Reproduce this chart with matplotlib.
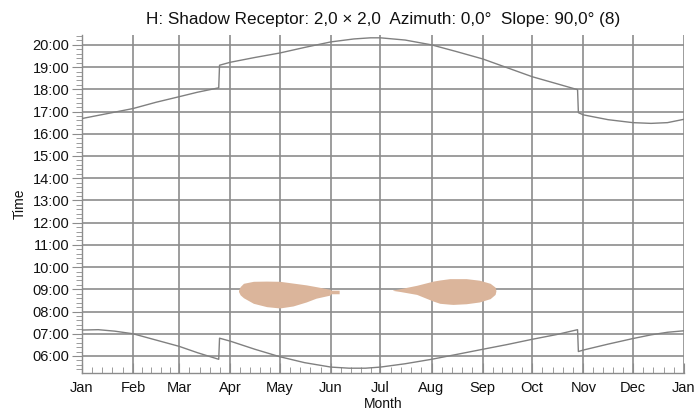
import matplotlib
matplotlib.use("Agg")
import matplotlib.pyplot as plt
from matplotlib.ticker import FixedLocator, FuncFormatter, MultipleLocator

plt.rcParams["font.family"] = ["Liberation Sans", "DejaVu Sans"]

LINE_COLOR = "#808080"
GRID_COLOR = "#8c8c8c"
SHADOW_COLOR = "#dbb59b"
TEXT_COLOR = "#111111"

MONTHS = ["Jan", "Feb", "Mar", "Apr", "May", "Jun", "Jul",
          "Aug", "Sep", "Oct", "Nov", "Dec", "Jan"]
MONTH_START = [0, 31, 59, 90, 120, 151, 181, 212, 243, 273, 304, 334, 365]

# sunrise / sunset (local clock time) by day of year
SUN_DAYS = [0, 10, 20, 31, 45, 59, 70, 83, 83.5, 90, 105, 120, 135, 151, 162,
            172, 181, 196, 212, 227, 243, 258, 273, 288, 300.5, 301, 304, 319,
            334, 345, 355, 365]
SUNRISE = ["07:10", "07:11", "07:07", "07:00", "06:43", "06:26", "06:09", "05:51",
           "06:48", "06:40", "06:18", "05:58", "05:42", "05:30", "05:27",
           "05:27", "05:30", "05:39", "05:51", "06:04", "06:18", "06:31",
           "06:45", "06:58", "07:11", "06:12", "06:16", "06:32",
           "06:47", "06:57", "07:04", "07:08"]
SUNSET_DAYS = [0, 15, 31, 45, 59, 70, 83, 83.5, 90, 105, 120, 135, 151, 165,
               175, 181, 196, 212, 227, 243, 258, 273, 288, 300.5, 301, 304,
               319, 334, 345, 355, 365]
SUNSET = ["16:41", "16:54", "17:08", "17:25", "17:40", "17:52", "18:04", "19:05",
          "19:13", "19:26", "19:38", "19:53", "20:08", "20:16", "20:19",
          "20:19", "20:13", "20:00", "19:42", "19:22", "18:58", "18:34",
          "18:15", "17:59", "16:57", "16:51", "16:38", "16:30", "16:28",
          "16:30", "16:39"]

# shadow periods on the receptor (decimal hours)
SPRING_DAYS = [95, 96, 98, 104, 112, 120, 128, 136, 142, 150.5, 151, 156]
SPRING_FROM = [8.90, 8.75, 8.62, 8.37, 8.22, 8.16, 8.25, 8.43, 8.60, 8.74, 8.80, 8.80]
SPRING_TO = [8.95, 9.12, 9.27, 9.36, 9.37, 9.36, 9.28, 9.20, 9.12, 9.00, 8.96, 8.96]
SUMMER_DAYS = [188.5, 193, 203, 213, 217, 223, 225, 233, 241, 247.5, 250.5, 251]
SUMMER_FROM = [8.95, 8.90, 8.77, 8.47, 8.37, 8.33, 8.32, 8.35, 8.43, 8.58, 8.77, 8.92]
SUMMER_TO = [8.97, 9.03, 9.18, 9.37, 9.42, 9.48, 9.48, 9.48, 9.41, 9.27, 9.10, 8.95]


def to_hours(values):
    return [int(v[:2]) + int(v[3:]) / 60 for v in values]


fig = plt.figure(figsize=(6.99, 4.15), dpi=100, facecolor="white")
ax = fig.add_axes([0.117, 0.101, 0.8615, 0.815])

ax.fill_between(SPRING_DAYS, SPRING_FROM, SPRING_TO, color=SHADOW_COLOR, lw=0, zorder=2)
ax.fill_between(SUMMER_DAYS, SUMMER_FROM, SUMMER_TO, color=SHADOW_COLOR, lw=0, zorder=2)
ax.plot(SUN_DAYS, to_hours(SUNRISE), color=LINE_COLOR, lw=1.0, zorder=3)
ax.plot(SUNSET_DAYS, to_hours(SUNSET), color=LINE_COLOR, lw=1.0, zorder=3)

ax.set_xlim(0, 365)
ax.set_ylim(5.23, 20.45)

ax.xaxis.set_major_locator(FixedLocator(MONTH_START))
ax.set_xticklabels(MONTHS)
minor_x = []
for a, b in zip(MONTH_START[:-1], MONTH_START[1:]):
    minor_x += [a + (b - a) * k / 5 for k in range(1, 5)]
ax.xaxis.set_minor_locator(FixedLocator(minor_x))

ax.yaxis.set_major_locator(FixedLocator(list(range(6, 21))))
ax.yaxis.set_major_formatter(FuncFormatter(lambda v, p: f"{int(round(v)):02d}:00"))
ax.yaxis.set_minor_locator(MultipleLocator(0.2))

ax.grid(True, which="major", color=GRID_COLOR, lw=1.2, zorder=1)
ax.set_axisbelow(True)

for side in ["top", "right"]:
    ax.spines[side].set_visible(False)
for side in ["left", "bottom"]:
    ax.spines[side].set_color(GRID_COLOR)
    ax.spines[side].set_linewidth(1.0)

ax.tick_params(axis="x", which="major", direction="in", length=7, color=GRID_COLOR,
               labelsize=10.5, labelcolor=TEXT_COLOR, pad=6)
ax.tick_params(axis="x", which="minor", direction="in", length=4, color=GRID_COLOR)
ax.tick_params(axis="y", which="major", direction="out", length=7, color=GRID_COLOR,
               labelsize=10.5, labelcolor=TEXT_COLOR, pad=2)
ax.tick_params(axis="y", which="minor", direction="out", length=4, color=GRID_COLOR)

ax.set_xlabel("Month", fontsize=10, color=TEXT_COLOR, labelpad=1)
ax.set_ylabel("Time", fontsize=10, color=TEXT_COLOR, labelpad=4)
ax.set_title("H: Shadow Receptor: 2,0 \u00d7 2,0  Azimuth: 0,0\u00b0  Slope: 90,0\u00b0 (8)",
             fontsize=12.3, color=TEXT_COLOR, pad=8)

fig.savefig("out.png", dpi=100, facecolor="white")
